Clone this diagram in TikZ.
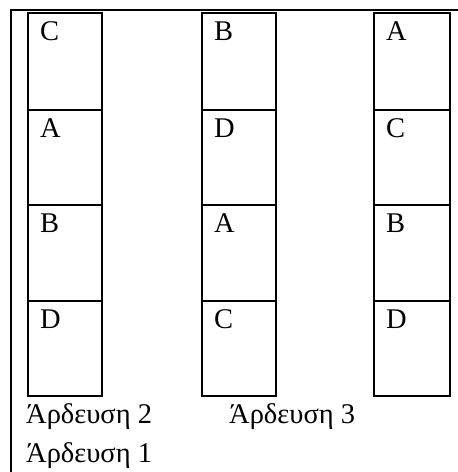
\documentclass[tikz,border=0pt]{standalone}
\usepackage{fontspec}
\setmainfont{Liberation Serif}
\usepackage{tikz}

\tikzset{
  cell/.style={line width=2.4pt},
  lbl/.style={anchor=base west, inner sep=0pt, font=\fontsize{28.5}{34}\selectfont},
}

\begin{document}
\begin{tikzpicture}[x=1pt,y=1pt]
\useasboundingbox (0,0) rectangle (458,-472);
\draw [cell] (11,-472) -- (11,-10) -- (458,-10);
% first column
\draw [cell] (28,-13) rectangle (102,-110); \node [lbl] (c1) at (40,-40) {C};
\draw [cell] (28,-110) rectangle (102,-205); \node [lbl] (a1) at (40,-137) {A};
\draw [cell] (28,-205) rectangle (102,-301); \node [lbl] (b1) at (40,-232) {B};
\draw [cell] (28,-301) rectangle (102,-396); \node [lbl] (d1) at (40,-328) {D};
% second column
\draw [cell] (202,-13) rectangle (276,-110); \node [lbl] (b2) at (214,-40) {B};
\draw [cell] (202,-110) rectangle (276,-205); \node [lbl] (d2) at (214,-137) {D};
\draw [cell] (202,-205) rectangle (276,-301); \node [lbl] (a2) at (214,-232) {A};
\draw [cell] (202,-301) rectangle (276,-396); \node [lbl] (c2) at (214,-328) {C};
% third column
\draw [cell] (374,-13) rectangle (450,-110); \node [lbl] (a3) at (386,-40) {A};
\draw [cell] (374,-110) rectangle (450,-205); \node [lbl] (c3) at (386,-137) {C};
\draw [cell] (374,-205) rectangle (450,-301); \node [lbl] (b3) at (386,-232) {B};
\draw [cell] (374,-301) rectangle (450,-396); \node [lbl] (d3) at (386,-328) {D};
% captions
\node [lbl] (ard2) at (26,-423) {Άρδευση 2};
\node [lbl] (ard3) at (229,-423) {Άρδευση 3};
\node [lbl] (ard1) at (26,-462) {Άρδευση 1};
\end{tikzpicture}
\end{document}
